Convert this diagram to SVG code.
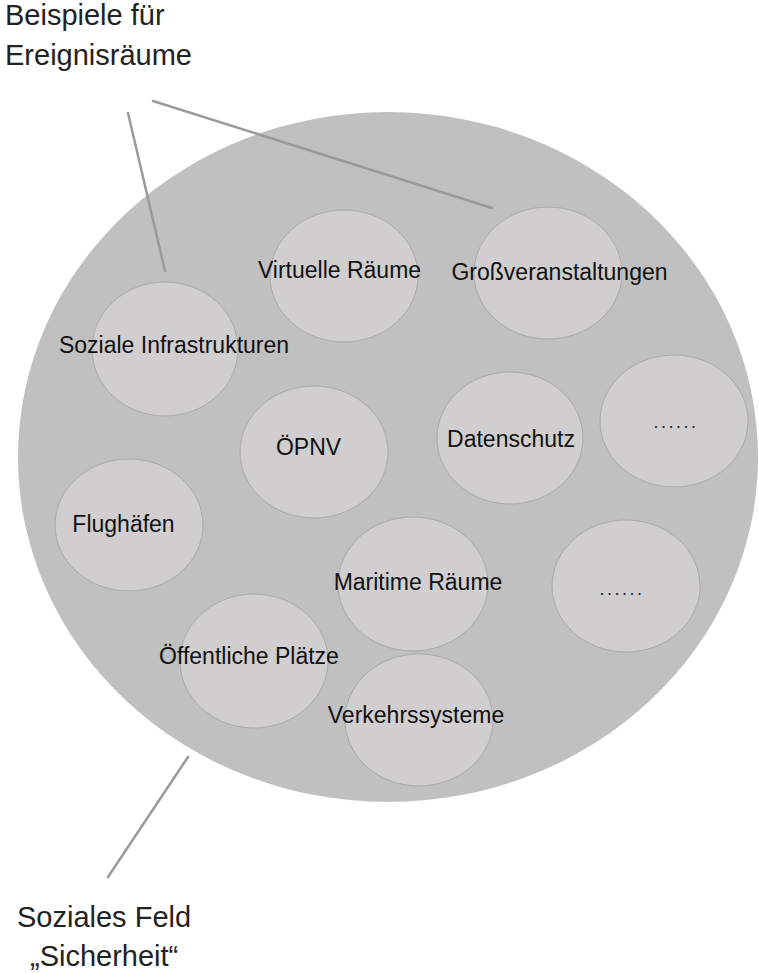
<svg xmlns="http://www.w3.org/2000/svg" width="759" height="973" viewBox="0 0 759 973">
  <style>
    .field { fill: #c0c0c0; }
    .space { fill: #d0cecf; stroke: #a9a9a9; stroke-width: 1; }
    .lbl { font-family: "Liberation Sans", Arial, sans-serif; font-size: 23px; fill: #111; text-anchor: middle; }
    .dots { font-family: "Liberation Sans", Arial, sans-serif; font-size: 18px; fill: #222; text-anchor: middle; letter-spacing: 2.5px; }
    .outer { font-family: "Liberation Sans", Arial, sans-serif; font-size: 29px; fill: #222; }
    .lead { stroke: #9a9a9a; stroke-width: 2.5; stroke-linecap: round; fill: none; }
  </style>

  <!-- social field -->
  <g id="feld">
    <ellipse class="field" cx="388" cy="457" rx="370" ry="345"/>
  </g>

  <!-- event spaces -->
  <g id="virtuelle-raeume">
    <ellipse class="space" cx="344" cy="276" rx="74" ry="66"/>
    <text class="lbl" x="339.5" y="278">Virtuelle Räume</text>
  </g>
  <g id="grossveranstaltungen">
    <ellipse class="space" cx="548" cy="273" rx="74" ry="66"/>
    <text class="lbl" x="559.5" y="280">Großveranstaltungen</text>
  </g>
  <g id="soziale-infrastrukturen">
    <ellipse class="space" cx="165" cy="349" rx="73" ry="67"/>
    <text class="lbl" x="174" y="353">Soziale Infrastrukturen</text>
  </g>
  <g id="oepnv">
    <ellipse class="space" cx="314" cy="452" rx="74" ry="66"/>
    <text class="lbl" x="308.5" y="455">ÖPNV</text>
  </g>
  <g id="datenschutz">
    <ellipse class="space" cx="510" cy="438" rx="73" ry="66"/>
    <text class="lbl" x="511" y="447">Datenschutz</text>
  </g>
  <g id="weitere-1">
    <ellipse class="space" cx="674" cy="421" rx="74" ry="66"/>
    <text class="dots" x="676" y="428">......</text>
  </g>
  <g id="flughaefen">
    <ellipse class="space" cx="129" cy="525" rx="74" ry="66"/>
    <text class="lbl" x="123.5" y="532">Flughäfen</text>
  </g>
  <g id="maritime-raeume">
    <ellipse class="space" cx="413" cy="584" rx="75" ry="67"/>
    <text class="lbl" x="418" y="590">Maritime Räume</text>
  </g>
  <g id="weitere-2">
    <ellipse class="space" cx="626" cy="586" rx="74" ry="66"/>
    <text class="dots" x="622" y="595">......</text>
  </g>
  <g id="oeffentliche-plaetze">
    <ellipse class="space" cx="254" cy="661" rx="74" ry="67"/>
    <text class="lbl" x="249" y="664">Öffentliche Plätze</text>
  </g>
  <g id="verkehrssysteme">
    <ellipse class="space" cx="419" cy="720" rx="74" ry="66"/>
    <text class="lbl" x="416" y="723">Verkehrssysteme</text>
  </g>

  <!-- leader lines -->
  <g id="connectors">
    <line class="lead" x1="128" y1="113" x2="165" y2="271"/>
    <line class="lead" x1="153" y1="101" x2="492" y2="208"/>
    <line class="lead" x1="188" y1="757" x2="108" y2="877"/>
  </g>

  <!-- outer labels -->
  <g id="label-ereignisraeume">
    <text class="outer" x="5" y="25">Beispiele für</text>
    <text class="outer" x="5" y="65">Ereignisräume</text>
  </g>
  <g id="label-feld">
    <text class="outer" x="17" y="927">Soziales Feld</text>
    <text class="outer" x="30" y="966">„Sicherheit“</text>
  </g>
</svg>
